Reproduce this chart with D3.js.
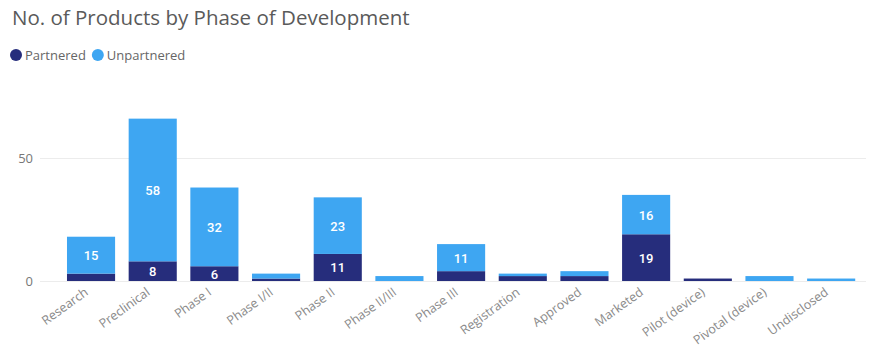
<!DOCTYPE html>
<html>
<head>
<meta charset="utf-8">
<script src="https://cdn.jsdelivr.net/npm/d3@7"></script>
<style>
  body { margin: 0; background: #fff; }
  text { font-family: "Open Sans", "DejaVu Sans", sans-serif; }
</style>
</head>
<body>
<script>
var phases = ["Research", "Preclinical", "Phase I", "Phase I/II", "Phase II", "Phase II/III",
  "Phase III", "Registration", "Approved", "Marketed", "Pilot (device)", "Pivotal (device)", "Undisclosed"];
var partnered   = [3, 8, 6, 1, 11, 0, 4, 2, 2, 19, 1, 0, 0];
var unpartnered = [15, 58, 32, 2, 23, 2, 11, 1, 2, 16, 0, 2, 1];
var seriesNames = ["Partnered", "Unpartnered"];
var yTicks = [0, 50];

var width = 870, height = 349;
var darkBlue = "#262d7c", lightBlue = "#3ea6f2";

var svg = d3.select("body").append("svg")
    .attr("width", width)
    .attr("height", height);

svg.append("text")
    .attr("x", 12)
    .attr("y", 25)
    .attr("fill", "#5a5a5a")
    .style("font-size", "20.5px")
    .text("No. of Products by Phase of Development");

// legend
var legend = svg.append("g");
var lx = 16;
seriesNames.forEach(function(name, i) {
    legend.append("circle")
        .attr("cx", lx)
        .attr("cy", 55)
        .attr("r", 6)
        .attr("fill", i == 0 ? darkBlue : lightBlue);
    var t = legend.append("text")
        .attr("x", lx + 9)
        .attr("y", 60)
        .attr("fill", "#666")
        .style("font-size", "13px")
        .text(name);
    lx += t.node().getComputedTextLength() + 21;
});

var rows = phases.map(function(p, i) {
    return { phase: p, Partnered: partnered[i], Unpartnered: unpartnered[i] };
});
var stacked = d3.stack().keys(seriesNames)(rows);

var x = d3.scaleBand()
    .domain(phases)
    .range([60.2, 862])
    .paddingInner(0.22)
    .paddingOuter(0.11);

var y = d3.scaleLinear()
    .domain([0, 50])
    .range([281, 158]);

// gridlines
svg.append("g").selectAll("line")
    .data(yTicks)
    .enter()
    .append("line")
    .attr("x1", 40)
    .attr("x2", 866)
    .attr("y1", function(d) { return y(d) + 0.5; })
    .attr("y2", function(d) { return y(d) + 0.5; })
    .attr("stroke", "#ececec")
    .attr("stroke-width", 1);

var yAxis = svg.append("g")
    .attr("transform", "translate(33,0)")
    .call(d3.axisLeft(y).tickValues(yTicks).tickSize(0).tickPadding(0));
yAxis.select(".domain").remove();
yAxis.selectAll("text")
    .attr("fill", "#777")
    .style("font-size", "13px")
    .style("font-family", "'Open Sans', sans-serif");

// bars
var layers = svg.append("g").selectAll("g")
    .data(stacked)
    .enter()
    .append("g")
    .attr("fill", function(d, i) { return i == 0 ? darkBlue : lightBlue; });

layers.selectAll("rect")
    .data(function(d) { return d; })
    .enter()
    .append("rect")
    .attr("x", function(d) { return x(d.data.phase); })
    .attr("width", x.bandwidth())
    .attr("y", function(d) { return y(d[1]); })
    .attr("height", function(d) { return y(d[0]) - y(d[1]); });

// data labels (only where segment is big enough)
layers.selectAll("text")
    .data(function(d) { return d.filter(function(s) { return s[1] - s[0] >= 5; }); })
    .enter()
    .append("text")
    .attr("x", function(d) { return x(d.data.phase) + x.bandwidth() / 2; })
    .attr("y", function(d) { return (y(d[0]) + y(d[1])) / 2 + 5; })
    .attr("text-anchor", "middle")
    .attr("fill", "#fff")
    .style("font-size", "13px")
    .style("font-weight", "500")
    .style("font-family", "'Roboto', sans-serif")
    .text(function(d) { return d[1] - d[0]; });

// x axis labels
var xAxis = svg.append("g")
    .attr("transform", "translate(0,281)")
    .call(d3.axisBottom(x).tickSize(0).tickPadding(0));
xAxis.select(".domain").remove();
xAxis.selectAll("text")
    .attr("fill", "#8a8a8a")
    .style("font-size", "12.5px")
    .style("font-family", "'Open Sans', sans-serif")
    .attr("text-anchor", "end")
    .attr("dy", null)
    .attr("transform", "translate(-2,13) rotate(-36)");
</script>
</body>
</html>
